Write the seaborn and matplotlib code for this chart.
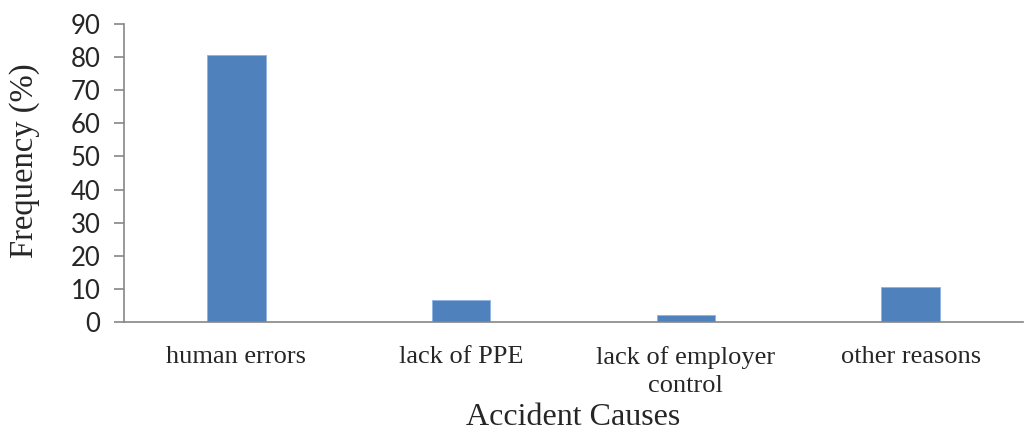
import numpy as np
import pandas as pd
import matplotlib
matplotlib.use('Agg')
import matplotlib.pyplot as plt
import seaborn as sns

causes = ['human errors', 'lack of PPE', 'lack of employer\ncontrol', 'other reasons']
frequency = [80.6, 6.6, 2.0, 10.6]

df = pd.DataFrame({'cause': causes, 'freq': frequency})

sns.set_style('white')
fig = plt.figure(figsize=(10.25, 4.32), dpi=100)
ax = fig.add_axes([0.121, 0.255, 0.877, 0.689])

sns.barplot(data=df, x='cause', y='freq', color='#4F81BD', width=0.26,
            saturation=1, edgecolor='#8DB3E2', linewidth=0.6, ax=ax)

ax.set_ylim(0, 90)
ax.set_yticks(np.arange(0, 91, 10))
ax.set_xlim(-0.5, 3.5)

for s in ['top', 'right']:
    ax.spines[s].set_visible(False)
for s in ['left', 'bottom']:
    ax.spines[s].set_color('#868686')
    ax.spines[s].set_linewidth(1.2)

ax.tick_params(axis='y', which='both', left=True, length=7, width=1.2,
               color='#868686', pad=10)
ax.tick_params(axis='x', bottom=False, pad=14)

for lab in ax.get_yticklabels():
    lab.set_fontfamily('Lato')
    lab.set_fontsize(18.5)
for lab in ax.get_xticklabels():
    lab.set_fontfamily('Liberation Serif')
    lab.set_fontsize(19)
    lab.set_linespacing(1.35)

ax.set_xlabel('Accident Causes', fontfamily='Liberation Serif', fontsize=23, labelpad=4)
ax.set_ylabel('Frequency (%)', fontfamily='Liberation Serif', fontsize=23.5)
ax.yaxis.set_label_coords(-0.093, 0.54)

fig.savefig('out.png', dpi=100)
